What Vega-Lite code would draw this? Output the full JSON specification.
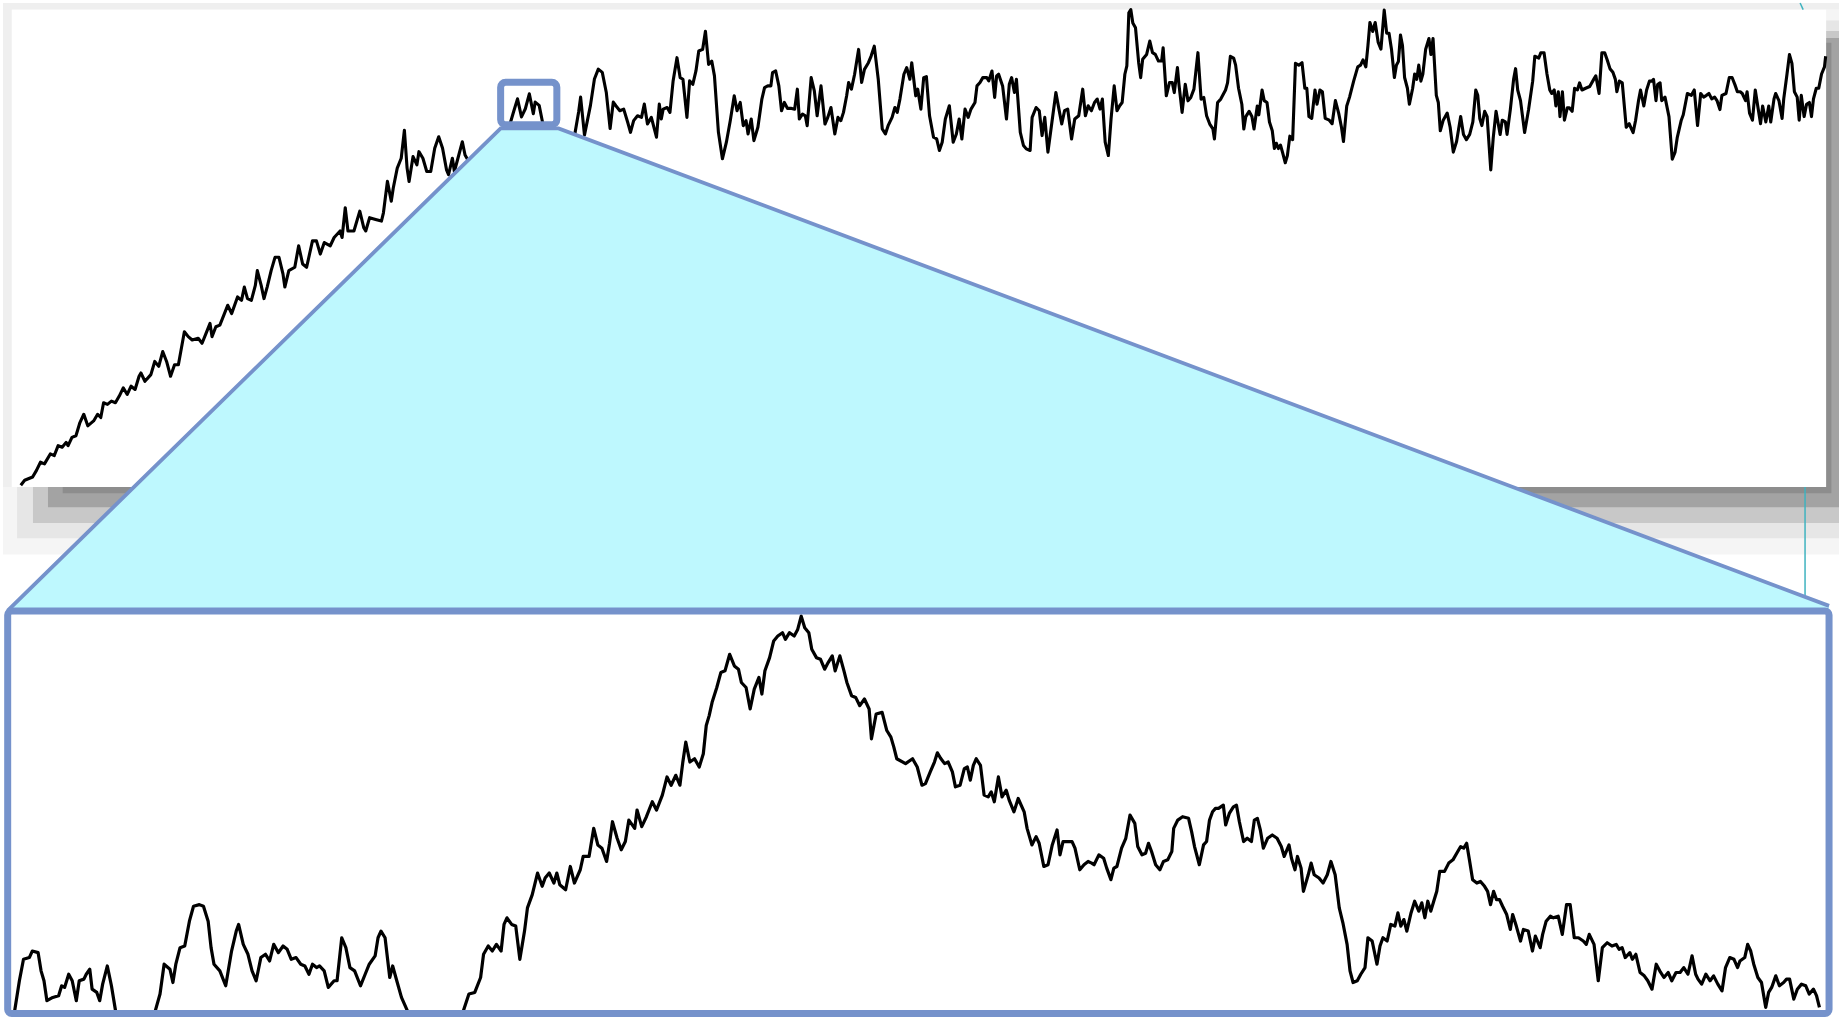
{
  "$schema": "https://vega.github.io/schema/vega-lite/v6.json",
  "width": 1839,
  "height": 1017,
  "autosize": {"type": "fit", "contains": "padding"},
  "padding": 0,
  "background": "#ffffff",
  "config": {"view": {"stroke": null}},
  "datasets": {
    "blocks": [
      {"part": "sh1", "x": 0, "x2": 1568, "y": 6, "y2": 473},
      {"part": "sh2", "x": 12, "x2": 1568, "y": 15, "y2": 459},
      {"part": "sh3", "x": 25.6, "x2": 1568, "y": 24, "y2": 446},
      {"part": "sh4", "x": 38.4, "x2": 1568, "y": 30, "y2": 432.5},
      {"part": "sh5", "x": 51, "x2": 1561.5, "y": 34, "y2": 420.5},
      {"part": "strip", "x": 0, "x2": 1568, "y": 0, "y2": 5.7},
      {"part": "strip", "x": 0, "x2": 7.5, "y": 0, "y2": 415},
      {"part": "panel", "x": 7.5, "x2": 1557, "y": 5.7, "y2": 415}
    ],
    "teal": [
      {"seg": "a", "x": 1539, "y": 415},
      {"seg": "a", "x": 1539.01, "y": 509},
      {"seg": "b", "x": 1534.8, "y": 0},
      {"seg": "b", "x": 1537.4, "y": 5.7}
    ],
    "trap": [
      {"x": 4, "y": 521, "y2": 521},
      {"x": 425, "y": 107.5, "y2": 521},
      {"x": 474.5, "y": 107.5, "y2": 521},
      {"x": 1559.5, "y": 517, "y2": 521}
    ],
    "frames": [
      {"name": "small", "x": 425, "x2": 473, "y": 68, "y2": 104.5},
      {"name": "big", "x": 4, "x2": 1559.5, "y": 521.5, "y2": 866.5}
    ],
    "top": [
      {"x":15.2,"y":413.6},{"x":18.5,"y":409.3},{"x":25.3,"y":406.5},{"x":28.6,"y":400.8},{"x":32.0,"y":393.8},{"x":35.4,"y":395.2},{"x":40.4,"y":386.7},{"x":43.8,"y":388.1},{"x":47.1,"y":379.6},{"x":50.5,"y":381.0},{"x":53.9,"y":376.8},{"x":55.6,"y":379.6},{"x":58.9,"y":372.5},{"x":62.3,"y":371.1},{"x":65.7,"y":359.8},{"x":69.0,"y":352.7},{"x":72.4,"y":362.6},{"x":77.4,"y":358.4},{"x":80.8,"y":352.7},{"x":83.5,"y":355.5},{"x":85.9,"y":342.8},{"x":89.2,"y":344.2},{"x":92.6,"y":341.4},{"x":96.0,"y":342.8},{"x":99.3,"y":337.1},{"x":102.7,"y":330.0},{"x":106.1,"y":335.7},{"x":109.4,"y":328.6},{"x":112.8,"y":331.4},{"x":116.2,"y":320.1},{"x":117.8,"y":317.3},{"x":121.2,"y":324.4},{"x":126.3,"y":318.7},{"x":129.6,"y":307.4},{"x":133.0,"y":311.6},{"x":136.4,"y":298.9},{"x":139.7,"y":307.4},{"x":143.1,"y":320.1},{"x":146.5,"y":310.2},{"x":149.8,"y":310.2},{"x":154.9,"y":281.9},{"x":158.2,"y":286.1},{"x":161.6,"y":289.0},{"x":166.7,"y":287.5},{"x":170.0,"y":291.8},{"x":173.4,"y":283.3},{"x":176.8,"y":274.8},{"x":178.5,"y":286.1},{"x":181.8,"y":277.6},{"x":185.2,"y":276.2},{"x":188.6,"y":267.7},{"x":191.9,"y":259.2},{"x":195.3,"y":266.3},{"x":200.3,"y":252.1},{"x":203.7,"y":255.0},{"x":206.1,"y":243.6},{"x":208.8,"y":253.5},{"x":212.1,"y":255.0},{"x":215.5,"y":242.2},{"x":217.2,"y":229.5},{"x":220.5,"y":242.2},{"x":222.9,"y":253.5},{"x":225.6,"y":243.6},{"x":229.0,"y":229.5},{"x":232.3,"y":218.1},{"x":235.7,"y":218.1},{"x":239.1,"y":232.3},{"x":240.7,"y":243.6},{"x":244.1,"y":229.5},{"x":249.2,"y":226.6},{"x":252.5,"y":208.2},{"x":255.9,"y":223.8},{"x":259.3,"y":226.6},{"x":264.3,"y":204.0},{"x":267.7,"y":204.0},{"x":271.0,"y":215.3},{"x":274.4,"y":205.4},{"x":279.5,"y":208.2},{"x":282.8,"y":201.1},{"x":287.9,"y":195.5},{"x":289.6,"y":201.1},{"x":292.3,"y":175.6},{"x":294.6,"y":195.5},{"x":299.7,"y":195.5},{"x":304.7,"y":178.5},{"x":308.1,"y":192.6},{"x":309.8,"y":195.5},{"x":313.1,"y":184.1},{"x":318.2,"y":185.6},{"x":323.2,"y":187.0},{"x":324.9,"y":179.9},{"x":328.3,"y":153.0},{"x":331.6,"y":170.0},{"x":333.3,"y":158.6},{"x":336.7,"y":141.6},{"x":340.1,"y":133.1},{"x":342.8,"y":109.1},{"x":345.1,"y":141.6},{"x":346.8,"y":153.0},{"x":350.2,"y":131.7},{"x":353.5,"y":138.8},{"x":355.2,"y":127.5},{"x":358.6,"y":133.1},{"x":361.9,"y":144.5},{"x":365.3,"y":144.5},{"x":368.7,"y":124.6},{"x":372.1,"y":114.7},{"x":375.4,"y":124.6},{"x":378.8,"y":143.1},{"x":380.5,"y":147.3},{"x":383.8,"y":133.1},{"x":385.5,"y":144.5},{"x":392.3,"y":119.0},{"x":394.6,"y":130.3},{"x":399,"y":138},{"x":408,"y":128},{"x":416,"y":121},{"x":424,"y":113},{"x":430,"y":110},{"x":432.7,"y":104.8},{"x":436.0,"y":93.5},{"x":439.4,"y":82.2},{"x":442.8,"y":97.7},{"x":446.1,"y":90.7},{"x":449.5,"y":77.9},{"x":452.9,"y":94.9},{"x":454.5,"y":85.0},{"x":457.9,"y":87.8},{"x":461.3,"y":104.8},{"x":466,"y":114},{"x":474,"y":121},{"x":482,"y":118},{"x":487,"y":115},{"x":488.2,"y":113.3},{"x":491.6,"y":93.5},{"x":493.3,"y":80.7},{"x":496.6,"y":113.3},{"x":501.7,"y":87.8},{"x":505.1,"y":65.2},{"x":508.4,"y":56.7},{"x":511.8,"y":59.5},{"x":515.2,"y":76.5},{"x":518.5,"y":107.6},{"x":521.2,"y":85.0},
      {"x":523.4,"y":88.1},{"x":526.8,"y":92.4},{"x":530.1,"y":91.0},{"x":533.5,"y":102.3},{"x":535.9,"y":110.9},{"x":538.6,"y":100.9},{"x":541.9,"y":96.7},{"x":545.3,"y":98.1},{"x":547.7,"y":86.7},{"x":550.4,"y":103.8},{"x":553.7,"y":98.1},{"x":558.1,"y":115.1},{"x":560.5,"y":86.7},{"x":562.2,"y":99.5},{"x":563.8,"y":91.0},{"x":567.2,"y":89.6},{"x":569.6,"y":93.8},{"x":572.3,"y":66.8},{"x":575.6,"y":46.9},{"x":578.3,"y":64.0},{"x":580.7,"y":65.4},{"x":584.1,"y":98.1},{"x":586.4,"y":66.8},{"x":589.1,"y":69.7},{"x":591.8,"y":58.3},{"x":594.2,"y":41.2},{"x":597.5,"y":39.8},{"x":599.9,"y":24.2},{"x":602.6,"y":52.6},{"x":605.3,"y":49.8},{"x":607.6,"y":62.5},{"x":611.0,"y":110.9},{"x":614.4,"y":133.6},{"x":617.8,"y":119.4},{"x":621.1,"y":100.9},{"x":624.5,"y":79.6},{"x":626.9,"y":92.4},{"x":629.6,"y":85.3},{"x":632.2,"y":105.2},{"x":634.6,"y":100.9},{"x":636.3,"y":112.3},{"x":639.0,"y":99.5},{"x":641.3,"y":118.0},{"x":644.7,"y":106.6},{"x":648.1,"y":82.4},{"x":650.4,"y":72.5},{"x":653.1,"y":71.1},{"x":655.8,"y":71.1},{"x":657.2,"y":59.7},{"x":659.9,"y":58.3},{"x":662.6,"y":71.1},{"x":664.9,"y":92.4},{"x":667.3,"y":85.3},{"x":670.0,"y":90.4},{"x":673.4,"y":90.4},{"x":676.1,"y":91.0},{"x":678.4,"y":73.9},{"x":680.1,"y":99.5},{"x":682.8,"y":95.2},{"x":685.2,"y":96.7},{"x":686.8,"y":105.2},{"x":690.2,"y":64.0},{"x":692.9,"y":75.3},{"x":695.3,"y":96.7},{"x":698.6,"y":71.1},{"x":702.0,"y":103.8},{"x":704.4,"y":98.1},{"x":707.1,"y":89.6},{"x":710.4,"y":112.3},{"x":713.1,"y":98.1},{"x":715.5,"y":100.9},{"x":717.8,"y":93.8},{"x":720.5,"y":79.6},{"x":722.2,"y":68.2},{"x":724.6,"y":73.9},{"x":727.3,"y":61.1},{"x":730.7,"y":39.8},{"x":733.3,"y":68.2},{"x":735.7,"y":56.9},{"x":739.1,"y":51.2},{"x":741.4,"y":45.5},{"x":744.1,"y":37.0},{"x":747.5,"y":65.4},{"x":750.9,"y":108.0},{"x":753.6,"y":112.3},{"x":755.9,"y":105.2},{"x":759.3,"y":98.1},{"x":761.7,"y":89.6},{"x":763.7,"y":93.8},{"x":766.0,"y":82.4},{"x":769.4,"y":61.1},{"x":771.8,"y":55.4},{"x":774.5,"y":65.4},{"x":776.1,"y":51.2},{"x":779.5,"y":79.6},{"x":781.2,"y":73.9},{"x":783.9,"y":91.0},{"x":786.3,"y":64.0},{"x":788.6,"y":63.1},{"x":791.3,"y":96.7},{"x":794.7,"y":115.1},{"x":797.4,"y":116.6},{"x":799.7,"y":126.5},{"x":802.1,"y":119.4},{"x":804.8,"y":99.5},{"x":808.2,"y":88.1},{"x":811.5,"y":119.4},{"x":814.2,"y":112.3},{"x":816.6,"y":99.5},{"x":818.9,"y":116.6},{"x":821.6,"y":91.0},{"x":824.3,"y":98.1},{"x":826.7,"y":91.0},{"x":830.1,"y":85.3},{"x":831.8,"y":71.1},{"x":834.4,"y":68.2},{"x":836.8,"y":64.0},{"x":840.2,"y":64.0},{"x":841.9,"y":66.8},{"x":844.6,"y":58.3},{"x":846.9,"y":81.0},{"x":848.6,"y":62.5},{"x":850.3,"y":61.1},{"x":853.7,"y":71.1},{"x":857.0,"y":99.5},{"x":859.4,"y":69.7},{"x":861.4,"y":64.0},{"x":863.8,"y":76.8},{"x":865.5,"y":65.4},{"x":868.8,"y":110.9},{"x":871.5,"y":122.2},{"x":873.9,"y":125.1},{"x":877.2,"y":126.5},{"x":878.9,"y":98.1},{"x":882.3,"y":89.6},{"x":885.0,"y":92.4},{"x":887.4,"y":113.7},{"x":889.7,"y":98.1},{"x":892.4,"y":127.9},{"x":895.8,"y":102.3},{"x":899.2,"y":76.8},{"x":901.8,"y":91.0},{"x":904.2,"y":103.8},{"x":906.6,"y":92.4},{"x":909.3,"y":91.0},{"x":912.6,"y":116.6},{"x":915.3,"y":99.5},{"x":918.7,"y":96.7},{"x":922.1,"y":73.9},{"x":924.4,"y":96.7},{"x":926.8,"y":88.1},{"x":929.5,"y":92.4},{"x":932.2,"y":85.3},{"x":934.5,"y":82.4},{"x":936.9,"y":91.0},{"x":938.9,"y":82.4},{"x":941.3,"y":119.4},{"x":944.0,"y":130.8},{"x":946.3,"y":99.5},{"x":949.0,"y":71.1},{"x":951.4,"y":92.4},{"x":953.7,"y":88.1},{"x":955.8,"y":85.3},{"x":958.1,"y":61.1},{"x":959.8,"y":54.0},{"x":961.5,"y":8.5},{"x":963.2,"y":5.7},{"x":964.9,"y":17.1},{"x":967.2,"y":21.3},{"x":969.9,"y":51.2},{"x":971.6,"y":64.0},{"x":973.3,"y":48.3},{"x":976.7,"y":44.1},{"x":979.4,"y":32.7},{"x":981.7,"y":42.6},{"x":984.1,"y":44.1},{"x":986.8,"y":49.8},{"x":989.5,"y":49.8},{"x":990.8,"y":38.4},{"x":993.5,"y":79.6},{"x":996.2,"y":68.2},{"x":998.6,"y":68.2},{"x":1000.3,"y":76.8},{"x":1003.0,"y":55.4},{"x":1004.3,"y":69.7},{"x":1007.0,"y":93.8},{"x":1009.7,"y":69.7},{"x":1012.0,"y":83.9},{"x":1014.4,"y":81.0},{"x":1017.1,"y":73.9},{"x":1018.8,"y":58.3},{"x":1020.5,"y":42.6},{"x":1023.2,"y":82.4},{"x":1025.5,"y":81.0},{"x":1027.9,"y":96.7},{"x":1030.6,"y":103.8},{"x":1033.3,"y":108.0},{"x":1034.6,"y":116.6},{"x":1037.3,"y":85.3},{"x":1040.0,"y":82.4},
      {"x":1044.1,"y":74.6},{"x":1045.8,"y":68.5},{"x":1048.2,"y":45.7},{"x":1051.0,"y":47.2},{"x":1052.7,"y":53.3},{"x":1055.2,"y":73.1},{"x":1058.0,"y":86.8},{"x":1059.7,"y":108.1},{"x":1061.4,"y":97.4},{"x":1064.2,"y":92.9},{"x":1066.6,"y":97.4},{"x":1068.4,"y":108.1},{"x":1071.2,"y":88.3},{"x":1072.5,"y":95.9},{"x":1075.3,"y":74.6},{"x":1077.1,"y":83.7},{"x":1079.5,"y":85.3},{"x":1081.6,"y":102.0},{"x":1084.0,"y":109.6},{"x":1085.8,"y":124.8},{"x":1087.5,"y":120.3},{"x":1089.2,"y":124.8},{"x":1091.0,"y":121.8},{"x":1092.7,"y":127.9},{"x":1095.1,"y":137.0},{"x":1096.9,"y":130.9},{"x":1099.0,"y":114.2},{"x":1101.4,"y":117.2},{"x":1103.8,"y":51.8},{"x":1106.6,"y":53.3},{"x":1109.4,"y":51.2},{"x":1111.8,"y":73.1},{"x":1113.5,"y":73.1},{"x":1115.3,"y":97.4},{"x":1117.7,"y":99.0},{"x":1120.5,"y":74.6},{"x":1122.2,"y":86.8},{"x":1124.7,"y":74.6},{"x":1126.8,"y":76.1},{"x":1129.2,"y":99.0},{"x":1132.7,"y":100.5},{"x":1135.1,"y":103.5},{"x":1137.9,"y":83.7},{"x":1140.7,"y":94.4},{"x":1143.1,"y":106.6},{"x":1144.8,"y":118.8},{"x":1147.6,"y":88.3},{"x":1150.0,"y":80.7},{"x":1153.5,"y":67.0},{"x":1157.0,"y":54.8},{"x":1159.4,"y":53.3},{"x":1161.5,"y":48.7},{"x":1163.9,"y":54.8},{"x":1165.7,"y":36.5},{"x":1167.4,"y":16.7},{"x":1169.8,"y":24.4},{"x":1171.9,"y":16.7},{"x":1174.4,"y":33.5},{"x":1176.8,"y":39.6},{"x":1179.6,"y":6.1},{"x":1181.7,"y":25.9},{"x":1183.7,"y":25.9},{"x":1185.8,"y":39.6},{"x":1188.3,"y":63.9},{"x":1190.0,"y":53.3},{"x":1191.7,"y":50.2},{"x":1193.5,"y":27.4},{"x":1195.2,"y":36.5},{"x":1197.0,"y":63.9},{"x":1199.4,"y":73.1},{"x":1201.1,"y":86.8},{"x":1203.9,"y":73.1},{"x":1205.6,"y":60.9},{"x":1207.4,"y":65.5},{"x":1209.1,"y":53.3},{"x":1210.9,"y":67.0},{"x":1212.6,"y":60.9},{"x":1215.0,"y":39.6},{"x":1217.8,"y":30.5},{"x":1219.5,"y":44.2},{"x":1221.3,"y":30.5},{"x":1224.1,"y":79.2},{"x":1225.8,"y":85.3},{"x":1227.5,"y":109.6},{"x":1230.0,"y":100.5},{"x":1233.4,"y":94.4},{"x":1235.9,"y":106.6},{"x":1238.6,"y":127.9},{"x":1241.4,"y":118.8},{"x":1244.9,"y":97.4},{"x":1247.3,"y":112.7},{"x":1249.8,"y":117.2},{"x":1252.6,"y":112.7},{"x":1255.3,"y":102.0},{"x":1257.8,"y":74.6},{"x":1259.5,"y":79.2},{"x":1261.2,"y":99.0},{"x":1263.0,"y":105.1},{"x":1265.4,"y":92.9},{"x":1267.5,"y":97.4},{"x":1270.6,"y":143.1},{"x":1272.7,"y":115.7},{"x":1275.1,"y":92.9},{"x":1278.6,"y":112.7},{"x":1280.4,"y":100.5},{"x":1283.1,"y":102.0},{"x":1284.5,"y":112.7},{"x":1287.3,"y":91.4},{"x":1290.1,"y":65.5},{"x":1291.8,"y":56.3},{"x":1293.6,"y":74.6},{"x":1296.0,"y":83.7},{"x":1299.5,"y":111.1},{"x":1302.9,"y":91.4},{"x":1306.4,"y":67.0},{"x":1308.2,"y":45.7},{"x":1311.6,"y":47.2},{"x":1313.4,"y":42.6},{"x":1316.1,"y":42.6},{"x":1318.6,"y":60.9},{"x":1321.0,"y":74.6},{"x":1322.7,"y":77.6},{"x":1324.8,"y":74.6},{"x":1326.2,"y":88.3},{"x":1328.3,"y":76.1},{"x":1329.7,"y":97.4},{"x":1331.8,"y":76.1},{"x":1333.5,"y":100.5},{"x":1336.0,"y":89.8},{"x":1337.7,"y":89.8},{"x":1340.1,"y":92.9},{"x":1342.2,"y":73.1},{"x":1344.6,"y":74.6},{"x":1346.4,"y":68.5},{"x":1348.5,"y":74.6},{"x":1351.6,"y":73.1},{"x":1355.1,"y":71.6},{"x":1358.5,"y":65.5},{"x":1360.3,"y":62.4},{"x":1363.1,"y":77.6},{"x":1365.5,"y":42.6},{"x":1367.9,"y":42.6},{"x":1370.0,"y":48.7},{"x":1372.4,"y":56.3},{"x":1374.9,"y":59.4},{"x":1377.0,"y":65.5},{"x":1378.3,"y":76.1},{"x":1380.4,"y":67.0},{"x":1382.9,"y":68.5},{"x":1386.3,"y":106.6},{"x":1388.8,"y":103.5},{"x":1390.8,"y":108.1},{"x":1392.2,"y":111.1},{"x":1394.3,"y":100.5},{"x":1396.8,"y":83.7},{"x":1398.5,"y":74.6},{"x":1401.3,"y":88.3},{"x":1403.7,"y":74.6},{"x":1406.1,"y":67.0},{"x":1408.2,"y":67.0},{"x":1409.6,"y":65.5},{"x":1411.7,"y":83.7},{"x":1413.1,"y":70.0},{"x":1415.2,"y":68.5},{"x":1416.6,"y":83.7},{"x":1419.4,"y":80.7},{"x":1422.8,"y":97.4},{"x":1425.6,"y":134.0},{"x":1428.0,"y":127.9},{"x":1429.8,"y":115.7},{"x":1433.3,"y":100.5},{"x":1435.0,"y":95.9},{"x":1438.5,"y":77.6},{"x":1441.9,"y":79.2},{"x":1444.4,"y":74.6},{"x":1447.2,"y":105.1},{"x":1449.9,"y":77.6},{"x":1452.4,"y":80.7},{"x":1454.8,"y":79.2},{"x":1456.9,"y":77.6},{"x":1459.3,"y":82.2},{"x":1461.8,"y":80.7},{"x":1463.8,"y":83.7},{"x":1466.3,"y":91.4},{"x":1468.0,"y":79.2},{"x":1471.5,"y":77.6},{"x":1474.3,"y":63.9},{"x":1476.7,"y":63.9},{"x":1479.1,"y":70.0},{"x":1481.2,"y":76.1},{"x":1483.6,"y":76.1},{"x":1485.4,"y":77.6},{"x":1488.2,"y":83.7},{"x":1489.5,"y":76.1},{"x":1491.6,"y":94.4},{"x":1494.1,"y":100.5},{"x":1496.5,"y":74.6},{"x":1498.6,"y":88.3},{"x":1501.0,"y":103.5},{"x":1502.8,"y":88.3},{"x":1505.5,"y":102.0},{"x":1508.0,"y":88.3},{"x":1509.7,"y":102.0},{"x":1512.5,"y":82.2},{"x":1513.9,"y":77.6},{"x":1516.7,"y":83.7},{"x":1519.4,"y":99.0},{"x":1520.8,"y":82.2},{"x":1523.6,"y":60.9},{"x":1525.7,"y":44.2},{"x":1527.8,"y":51.8},{"x":1529.9,"y":76.1},{"x":1532.3,"y":80.7},{"x":1534.0,"y":100.5},{"x":1535.8,"y":79.2},{"x":1538.2,"y":97.4},{"x":1540.3,"y":86.8},{"x":1542.7,"y":85.3},{"x":1544.5,"y":97.4},{"x":1546.2,"y":82.2},{"x":1548.6,"y":73.1},{"x":1550.7,"y":73.1},{"x":1553.1,"y":60.9},{"x":1555.6,"y":54.8},{"x":1556.6,"y":45.7}
    ],
    "bottom": [
      {"x":10.0,"y":864.1},{"x":14.0,"y":838.5},{"x":17.5,"y":820.1},{"x":22.5,"y":818.6},{"x":25.0,"y":813.0},{"x":30.0,"y":814.4},{"x":32.5,"y":830.0},{"x":35.0,"y":838.5},{"x":37.5,"y":855.6},{"x":42.5,"y":852.8},{"x":47.5,"y":851.3},{"x":50.1,"y":842.8},{"x":52.6,"y":844.2},{"x":56.1,"y":832.9},{"x":59.1,"y":838.5},{"x":62.6,"y":855.6},{"x":65.1,"y":838.5},{"x":69.1,"y":837.1},{"x":71.1,"y":832.9},{"x":74.1,"y":828.6},{"x":76.1,"y":845.7},{"x":80.1,"y":848.5},{"x":82.6,"y":855.6},{"x":85.1,"y":841.4},{"x":89.1,"y":825.8},{"x":92.6,"y":842.8},{"x":96.1,"y":864.1},{"x":100.1,"y":872.7},{"x":115.1,"y":878.4},{"x":127.6,"y":871.2},{"x":130.1,"y":864.1},{"x":134.1,"y":849.9},{"x":137.6,"y":824.3},{"x":142.6,"y":828.6},{"x":145.1,"y":840.0},{"x":147.6,"y":824.3},{"x":151.2,"y":810.1},{"x":155.2,"y":808.7},{"x":159.2,"y":787.4},{"x":162.7,"y":774.6},{"x":167.7,"y":773.2},{"x":171.2,"y":774.6},{"x":175.2,"y":787.4},{"x":177.7,"y":810.1},{"x":180.2,"y":824.3},{"x":185.2,"y":830.0},{"x":190.2,"y":842.8},{"x":195.2,"y":813.0},{"x":199.2,"y":795.9},{"x":201.2,"y":790.2},{"x":205.2,"y":807.3},{"x":209.2,"y":815.8},{"x":212.7,"y":830.0},{"x":216.2,"y":838.5},{"x":220.2,"y":818.6},{"x":224.2,"y":815.8},{"x":227.7,"y":821.5},{"x":231.2,"y":807.3},{"x":235.2,"y":814.4},{"x":239.2,"y":808.7},{"x":242.7,"y":811.5},{"x":246.2,"y":820.1},{"x":250.3,"y":818.6},{"x":254.3,"y":824.3},{"x":257.8,"y":825.8},{"x":261.3,"y":832.9},{"x":264.3,"y":824.3},{"x":267.8,"y":827.2},{"x":270.3,"y":825.8},{"x":274.3,"y":830.0},{"x":277.8,"y":844.2},{"x":282.8,"y":838.5},{"x":285.3,"y":838.5},{"x":289.3,"y":801.6},{"x":292.8,"y":810.1},{"x":296.3,"y":827.2},{"x":300.3,"y":830.0},{"x":305.3,"y":842.8},{"x":309.3,"y":832.9},{"x":312.8,"y":824.3},{"x":317.8,"y":817.2},{"x":320.3,"y":801.6},{"x":322.8,"y":795.9},{"x":326.3,"y":801.6},{"x":330.3,"y":835.7},{"x":332.8,"y":825.8},{"x":336.3,"y":838.5},{"x":340.3,"y":852.8},{"x":345.3,"y":864.1},{"x":350.4,"y":874.1},{"x":370.4,"y":878.4},{"x":390.4,"y":872.7},{"x":397.9,"y":849.9},{"x":402.9,"y":848.5},{"x":407.9,"y":835.7},{"x":410.4,"y":815.8},{"x":414.4,"y":808.7},{"x":417.9,"y":813.0},{"x":421.4,"y":807.3},{"x":425.4,"y":813.0},{"x":427.9,"y":790.2},{"x":430.4,"y":784.5},{"x":434.4,"y":790.2},{"x":437.9,"y":791.6},{"x":441.4,"y":820.1},{"x":445.4,"y":795.9},{"x":447.9,"y":776.0},{"x":452.0,"y":764.6},{"x":456.5,"y":746.1},{"x":460.5,"y":757.5},{"x":463.0,"y":750.4},{"x":466.5,"y":746.1},{"x":470.5,"y":754.7},{"x":473.0,"y":746.1},{"x":475.5,"y":756.1},{"x":480.5,"y":760.4},{"x":484.5,"y":740.5},{"x":488.0,"y":754.7},{"x":493.0,"y":743.3},{"x":495.5,"y":731.9},{"x":500.5,"y":731.9},{"x":504.5,"y":707.8},{"x":508.0,"y":722.0},{"x":511.5,"y":724.8},{"x":515.5,"y":736.2},{"x":518.0,"y":720.6},{"x":520.5,"y":702.1},{"x":524.5,"y":716.3},{"x":528.0,"y":726.2},{"x":531.5,"y":719.1},{"x":534.5,"y":700.7},{"x":539.5,"y":707.8},{"x":541.5,"y":692.1},{"x":545.5,"y":706.3},{"x":549.5,"y":697.8},{"x":554.5,"y":685.0},{"x":558.1,"y":692.1},{"x":563.1,"y":679.3},{"x":567.1,"y":663.7},{"x":570.6,"y":670.8},{"x":574.6,"y":662.3},{"x":578.1,"y":670.8},{"x":580.6,"y":650.9},{"x":583.1,"y":633.9},{"x":586.6,"y":650.9},{"x":590.6,"y":648.1},{"x":594.6,"y":655.2},{"x":598.1,"y":643.8},{"x":600.6,"y":619.6},{"x":603.1,"y":611.1},{"x":605.6,"y":599.7},{"x":609.6,"y":587.0},{"x":613.1,"y":574.1},{"x":616.6,"y":572.7},{"x":620.6,"y":558.5},{"x":624.6,"y":568.5},{"x":628.1,"y":571.3},{"x":630.6,"y":582.7},{"x":634.6,"y":587.0},{"x":638.1,"y":605.4},{"x":641.6,"y":588.4},{"x":645.6,"y":578.4},{"x":648.1,"y":592.6},{"x":650.7,"y":572.7},{"x":654.7,"y":561.4},{"x":658.2,"y":547.1},{"x":661.7,"y":542.9},{"x":665.7,"y":540.0},{"x":668.2,"y":545.7},{"x":671.7,"y":540.0},{"x":675.7,"y":542.9},{"x":678.7,"y":537.2},{"x":681.7,"y":525.8},{"x":684.7,"y":535.8},{"x":688.2,"y":540.0},{"x":690.7,"y":554.2},{"x":694.7,"y":561.4},{"x":698.2,"y":562.8},{"x":701.7,"y":571.3},{"x":704.7,"y":565.6},{"x":708.2,"y":559.9},{"x":710.7,"y":572.7},{"x":714.7,"y":559.9},{"x":718.2,"y":572.7},{"x":720.7,"y":582.7},{"x":724.7,"y":594.0},{"x":728.2,"y":595.5},{"x":731.7,"y":602.6},{"x":735.7,"y":596.9},{"x":739.7,"y":605.4},{"x":741.7,"y":631.0},{"x":745.7,"y":609.7},{"x":750.8,"y":608.3},{"x":754.8,"y":623.9},{"x":758.3,"y":629.6},{"x":760.8,"y":638.1},{"x":763.3,"y":648.1},{"x":770.8,"y":652.3},{"x":776.8,"y":648.1},{"x":780.8,"y":655.2},{"x":784.8,"y":670.8},
      {"x":787.8,"y":669.4},{"x":791.9,"y":659.4},{"x":795.5,"y":650.9},{"x":798.0,"y":643.0},{"x":800.6,"y":647.5},{"x":804.2,"y":652.3},{"x":807.2,"y":650.9},{"x":810.8,"y":659.4},{"x":813.4,"y":672.2},{"x":817.4,"y":670.8},{"x":821.0,"y":656.6},{"x":823.6,"y":655.2},{"x":826.1,"y":666.5},{"x":828.7,"y":653.8},{"x":831.2,"y":648.1},{"x":834.8,"y":653.8},{"x":837.9,"y":679.3},{"x":841.4,"y":680.8},{"x":844.0,"y":676.5},{"x":846.6,"y":685.0},{"x":850.1,"y":663.7},{"x":853.2,"y":680.8},{"x":856.8,"y":675.1},{"x":859.3,"y":683.6},{"x":863.4,"y":693.6},{"x":867.0,"y":682.2},{"x":872.1,"y":693.6},{"x":874.6,"y":707.8},{"x":878.7,"y":722.0},{"x":882.3,"y":714.9},{"x":884.9,"y":720.6},{"x":888.9,"y":740.5},{"x":892.5,"y":739.0},{"x":896.1,"y":722.0},{"x":900.2,"y":709.2},{"x":902.7,"y":730.5},{"x":905.3,"y":719.1},{"x":909.4,"y":719.1},{"x":913.0,"y":719.1},{"x":915.5,"y":724.8},{"x":919.6,"y":743.3},{"x":923.2,"y":739.0},{"x":926.7,"y":736.2},{"x":929.8,"y":737.6},{"x":931.8,"y":739.0},{"x":935.9,"y":730.5},{"x":940.0,"y":733.4},{"x":942.6,"y":741.9},{"x":946.2,"y":751.8},{"x":948.7,"y":741.9},{"x":951.3,"y":740.5},{"x":955.3,"y":724.8},{"x":958.9,"y":716.3},{"x":962.5,"y":696.4},{"x":966.6,"y":703.5},{"x":969.1,"y":723.4},{"x":972.7,"y":730.5},{"x":975.8,"y":729.1},{"x":978.3,"y":720.6},{"x":980.9,"y":727.7},{"x":984.4,"y":739.0},{"x":988.0,"y":743.3},{"x":991.1,"y":736.2},{"x":994.7,"y":734.8},{"x":998.2,"y":727.7},{"x":999.8,"y":707.8},{"x":1003.3,"y":700.7},{"x":1007.4,"y":697.8},{"x":1012.5,"y":699.2},{"x":1015.1,"y":710.6},{"x":1017.6,"y":723.4},{"x":1021.7,"y":739.0},{"x":1025.3,"y":722.0},{"x":1027.9,"y":719.1},{"x":1030.4,"y":700.7},{"x":1033.0,"y":693.6},{"x":1035.5,"y":690.7},{"x":1038.1,"y":690.7},{"x":1042.2,"y":687.9},{"x":1044.2,"y":704.9},{"x":1047.3,"y":695.0},{"x":1050.8,"y":689.3},{"x":1053.4,"y":687.9},{"x":1055.9,"y":702.1},{"x":1059.5,"y":719.1},{"x":1062.6,"y":716.3},{"x":1066.2,"y":719.1},{"x":1068.7,"y":700.7},{"x":1071.3,"y":699.2},{"x":1073.8,"y":709.2},{"x":1076.4,"y":724.8},{"x":1080.0,"y":716.3},{"x":1084.0,"y":713.5},{"x":1088.1,"y":716.3},{"x":1091.7,"y":723.4},{"x":1094.2,"y":731.9},{"x":1098.3,"y":722.0},{"x":1100.4,"y":733.4},{"x":1103.4,"y":743.3},{"x":1105.5,"y":731.9},{"x":1108.6,"y":741.9},{"x":1110.6,"y":761.8},{"x":1114.7,"y":747.6},{"x":1117.2,"y":737.6},{"x":1119.8,"y":747.6},{"x":1123.9,"y":750.4},{"x":1127.4,"y":754.7},{"x":1131.0,"y":747.6},{"x":1134.1,"y":736.2},{"x":1137.7,"y":747.6},{"x":1141.2,"y":776.0},{"x":1144.3,"y":788.8},{"x":1147.9,"y":807.3},{"x":1150.4,"y":830.0},{"x":1153.0,"y":840.0},{"x":1156.6,"y":838.5},{"x":1159.6,"y":832.9},{"x":1163.2,"y":827.2},{"x":1165.7,"y":801.6},{"x":1169.3,"y":804.4},{"x":1173.4,"y":824.3},{"x":1176.0,"y":808.7},{"x":1178.5,"y":801.6},{"x":1182.1,"y":804.4},{"x":1185.2,"y":790.2},{"x":1188.7,"y":791.6},{"x":1191.3,"y":780.3},{"x":1193.8,"y":791.6},{"x":1196.4,"y":786.0},{"x":1198.9,"y":795.9},{"x":1202.5,"y":780.3},{"x":1205.6,"y":770.3},{"x":1209.1,"y":778.8},{"x":1211.7,"y":771.7},{"x":1214.3,"y":784.5},{"x":1216.8,"y":770.3},{"x":1219.4,"y":778.8},{"x":1221.9,"y":770.3},{"x":1224.5,"y":761.8},{"x":1227.0,"y":744.7},{"x":1231.1,"y":744.7},{"x":1234.7,"y":737.6},{"x":1238.3,"y":734.8},{"x":1242.4,"y":727.7},{"x":1244.9,"y":723.4},{"x":1247.5,"y":724.8},{"x":1250.0,"y":720.6},{"x":1252.6,"y":736.2},{"x":1255.1,"y":751.8},{"x":1258.7,"y":754.7},{"x":1261.8,"y":753.3},{"x":1265.3,"y":757.5},{"x":1267.9,"y":761.8},{"x":1270.4,"y":773.2},{"x":1273.0,"y":761.8},{"x":1275.5,"y":768.9},{"x":1278.1,"y":768.9},{"x":1280.7,"y":774.6},{"x":1284.2,"y":781.7},{"x":1287.3,"y":794.5},{"x":1289.3,"y":781.7},{"x":1292.4,"y":791.6},{"x":1296.0,"y":804.4},{"x":1298.5,"y":794.5},{"x":1302.6,"y":795.9},{"x":1306.2,"y":813.0},{"x":1308.7,"y":800.2},{"x":1312.8,"y":810.1},{"x":1314.9,"y":798.7},{"x":1317.9,"y":787.4},{"x":1321.5,"y":783.1},{"x":1324.1,"y":784.5},{"x":1328.2,"y":783.1},{"x":1331.7,"y":798.7},{"x":1335.3,"y":773.2},{"x":1338.4,"y":773.2},{"x":1341.9,"y":801.6},{"x":1345.5,"y":801.6},{"x":1349.6,"y":804.4},{"x":1352.2,"y":807.3},{"x":1354.7,"y":798.7},{"x":1358.8,"y":807.3},{"x":1362.4,"y":838.5},{"x":1365.9,"y":810.1},{"x":1370.0,"y":805.9},{"x":1374.1,"y":808.7},{"x":1377.7,"y":807.3},{"x":1380.2,"y":811.5},{"x":1382.8,"y":810.1},{"x":1385.4,"y":818.6},{"x":1389.4,"y":814.4},{"x":1391.5,"y":820.1},{"x":1394.5,"y":815.8},{"x":1398.1,"y":831.4},{"x":1401.7,"y":834.3},{"x":1404.7,"y":838.5},{"x":1408.3,"y":845.7},{"x":1411.9,"y":824.3},{"x":1414.9,"y":830.0},{"x":1418.5,"y":835.7},{"x":1422.1,"y":831.4},{"x":1425.2,"y":838.5},{"x":1428.8,"y":831.4},{"x":1432.3,"y":831.4},{"x":1435.4,"y":827.2},{"x":1439.0,"y":832.9},{"x":1442.5,"y":817.2},{"x":1445.6,"y":832.9},{"x":1447.6,"y":837.1},{"x":1450.7,"y":841.4},{"x":1454.3,"y":832.9},{"x":1457.9,"y":838.5},{"x":1460.9,"y":834.3},{"x":1464.5,"y":841.4},{"x":1468.1,"y":847.1},{"x":1471.1,"y":827.2},{"x":1474.7,"y":818.6},{"x":1478.3,"y":820.1},{"x":1481.4,"y":827.2},{"x":1483.4,"y":821.5},{"x":1487.5,"y":818.6},{"x":1490.0,"y":807.3},{"x":1492.6,"y":813.0},{"x":1495.2,"y":824.3},{"x":1498.7,"y":835.7},{"x":1501.8,"y":840.0},{"x":1505.4,"y":861.3},{"x":1507.9,"y":848.5},{"x":1510.5,"y":844.2},{"x":1514.0,"y":834.3},{"x":1517.1,"y":842.8},{"x":1520.7,"y":840.0},{"x":1523.2,"y":837.1},{"x":1525.8,"y":837.1},{"x":1529.4,"y":854.2},{"x":1532.4,"y":845.7},{"x":1536.0,"y":841.4},{"x":1539.6,"y":842.8},{"x":1542.6,"y":849.9},{"x":1546.2,"y":845.7},{"x":1548.8,"y":851.3},{"x":1551.3,"y":861.3}
    ]
  },
  "encoding": {
    "x": {"field": "x", "type": "quantitative", "scale": {"domain": [0, 1568], "nice": false, "zero": false}, "axis": null},
    "y": {"field": "y", "type": "quantitative", "scale": {"domain": [0, 867], "nice": false, "zero": false, "reverse": true}, "axis": null}
  },
  "layer": [
    {
      "data": {"name": "blocks"},
      "mark": {"type": "rect"},
      "encoding": {
        "x2": {"field": "x2"},
        "y2": {"field": "y2"},
        "color": {"field": "part", "type": "nominal", "legend": null,
          "scale": {"domain": ["sh1", "sh2", "sh3", "sh4", "sh5", "strip", "panel"],
                    "range": ["#f5f5f5", "#e6e6e6", "#c8c8c8", "#a3a3a3", "#8d8d8d", "#efefef", "#ffffff"]}}
      }
    },
    {
      "data": {"name": "teal"},
      "mark": {"type": "line", "stroke": "#3fb3bf", "strokeWidth": 1.5},
      "encoding": {"detail": {"field": "seg", "type": "nominal"}}
    },
    {
      "data": {"name": "top"},
      "mark": {"type": "line", "stroke": "#000000", "strokeWidth": 3.1, "strokeJoin": "round", "clip": true},
      "encoding": {}
    },
    {
      "data": {"name": "trap"},
      "mark": {"type": "area", "fill": "#bef8fe", "opacity": 1},
      "encoding": {"y2": {"field": "y2"}}
    },
    {
      "data": {"name": "trap"},
      "mark": {"type": "line", "stroke": "#7592cb", "strokeWidth": 3.8},
      "encoding": {}
    },
    {
      "data": {"name": "frames"},
      "transform": [{"filter": "datum.name === 'small'"}],
      "mark": {"type": "rect", "filled": false, "stroke": "#7592cb", "strokeWidth": 7, "cornerRadius": 5},
      "encoding": {"x2": {"field": "x2"}, "y2": {"field": "y2"}}
    },
    {
      "data": {"name": "frames"},
      "transform": [{"filter": "datum.name === 'big'"}],
      "mark": {"type": "rect", "fill": "#ffffff"},
      "encoding": {"x2": {"field": "x2"}, "y2": {"field": "y2"}}
    },
    {
      "data": {"name": "bottom"},
      "mark": {"type": "line", "stroke": "#000000", "strokeWidth": 3.2, "strokeJoin": "round", "clip": true},
      "encoding": {}
    },
    {
      "data": {"name": "frames"},
      "transform": [{"filter": "datum.name === 'big'"}],
      "mark": {"type": "rect", "filled": false, "stroke": "#7592cb", "strokeWidth": 7, "cornerRadius": 4},
      "encoding": {"x2": {"field": "x2"}, "y2": {"field": "y2"}}
    }
  ]
}
